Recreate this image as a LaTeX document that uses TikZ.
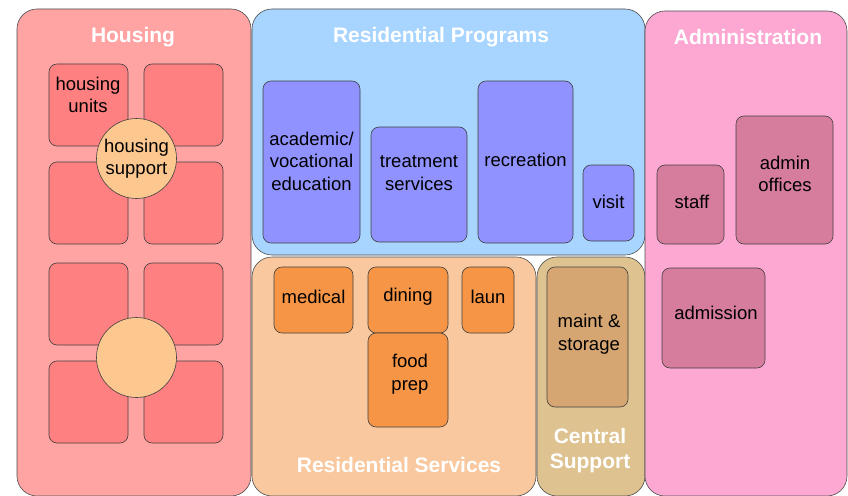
\documentclass[tikz,border=0pt]{standalone}
\usepackage{fontspec}
\setmainfont{Liberation Sans}
\definecolor{housingbg}{RGB}{255,163,163}
\definecolor{unitfill}{RGB}{255,128,128}
\definecolor{hubfill}{RGB}{252,200,143}
\definecolor{progbg}{RGB}{168,213,255}
\definecolor{progfill}{RGB}{143,146,255}
\definecolor{servbg}{RGB}{249,200,158}
\definecolor{servfill}{RGB}{247,149,70}
\definecolor{centralbg}{RGB}{222,194,143}
\definecolor{centralfill}{RGB}{214,166,114}
\definecolor{adminbg}{RGB}{253,168,211}
\definecolor{adminfill}{RGB}{214,124,157}

\begin{document}
\begin{tikzpicture}[x=1pt,y=-1pt,
    zone/.style={draw=black!70,line width=0.6pt,rounded corners=20pt},
    room/.style={draw=black!75,line width=0.6pt,rounded corners=8pt},
    hub/.style={circle,draw=black!75,line width=0.6pt,fill=hubfill,minimum size=80pt,inner sep=0pt},
    zonetitle/.style={text=white,font=\fontsize{21}{25}\selectfont\bfseries,align=center},
    lbl/.style={font=\fontsize{18.5}{22.5}\selectfont,align=center,inner sep=0pt}]
    \useasboundingbox (0,0) rectangle (848,495);

    % zones
    \draw[zone,fill=housingbg] (17,9) rectangle (251,496);
    \draw[zone,fill=progbg] (252,9) rectangle (645,255);
    \draw[zone,fill=servbg] (252,257) rectangle (536,496);
    \draw[zone,fill=centralbg] (537,257) rectangle (645,496);
    \draw[zone,fill=adminbg] (645,11) rectangle (847,496);

    \node[zonetitle] (housing) at (133,37) {Housing};
    \node[zonetitle] (programs) at (441,37) {Residential Programs};
    \node[zonetitle] (services) at (399,465) {Residential Services};
    \node[zonetitle] (central) at (590,451) {Central\\Support};
    \node[zonetitle] (admin) at (748,37) {Administration};

    % housing units
    \foreach \y in {64,162,263,361}
        \foreach \x in {49,144}
            \draw[room,fill=unitfill] (\x,\y) rectangle (\x+79,\y+82);
    \node[lbl] (units) at (88,95) {housing\\units};
    \node[hub] (hub1) at (136.5,158.5) {};
    \node[lbl] (support) at (hub1.center) {housing\\support};
    \node[hub] (hub2) at (136.5,357.5) {};

    % programs
    \draw[room,fill=progfill] (263,81) rectangle (360,243);
    \node[lbl] (academic) at (311.5,161) {academic/\\vocational\\education};
    \draw[room,fill=progfill] (371,127) rectangle (467,242);
    \node[lbl] (treatment) at (419,173) {treatment\\services};
    \draw[room,fill=progfill] (478,81) rectangle (573,243);
    \node[lbl] (recreation) at (525.5,160) {recreation};
    \draw[room,fill=progfill] (583,165) rectangle (634,241);
    \node[lbl] (visit) at (608.5,202) {visit};

    % services
    \draw[room,fill=servfill] (274,267) rectangle (353,333);
    \node[lbl] (medical) at (313.5,297) {medical};
    \draw[room,fill=servfill] (368,267) rectangle (448,333);
    \node[lbl] (dining) at (408,297) {dining};
    \draw[room,fill=servfill] (462,267) rectangle (514,333);
    \node[lbl] (laun) at (488,297) {laun};
    \draw[room,fill=servfill] (368,333) rectangle (448,427);
    \node[lbl] (foodprep) at (410,374) {food\\prep};

    % central support
    \draw[room,fill=centralfill] (547,267) rectangle (628,407);
    \node[lbl] (maint) at (589,334) {maint \&\\storage};

    % administration
    \draw[room,fill=adminfill] (657,165) rectangle (724,244);
    \node[lbl] (staff) at (692,202) {staff};
    \draw[room,fill=adminfill] (736,116) rectangle (833,244);
    \node[lbl] (offices) at (785,174) {admin\\offices};
    \draw[room,fill=adminfill] (662,268) rectangle (765,368);
    \node[lbl] (admission) at (716,313) {admission};
\end{tikzpicture}
\end{document}
